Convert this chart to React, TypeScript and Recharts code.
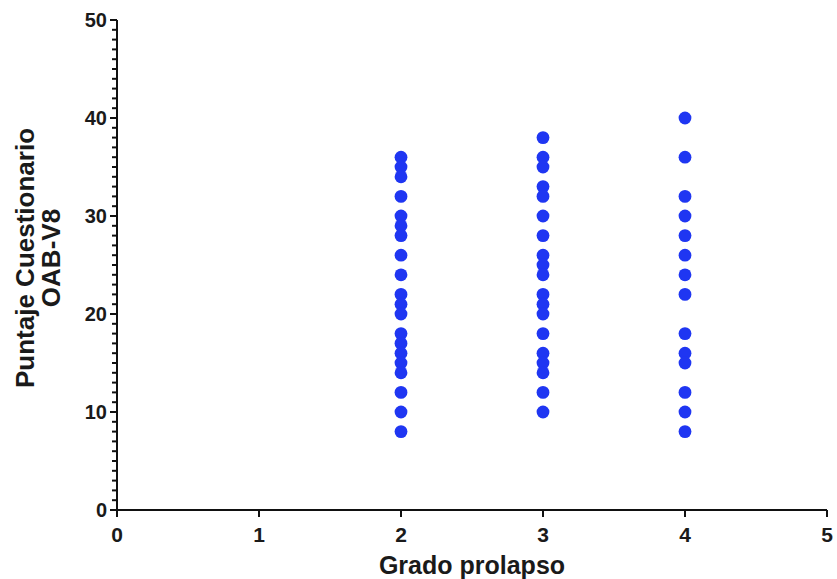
import React from "react";
import { ScatterChart, Scatter, XAxis, YAxis } from "recharts";

const grades = [2, 3, 4];
const scoresGrade2 = [36, 35, 34, 32, 30, 29, 28, 26, 24, 22, 21, 20, 18, 17, 16, 15, 14, 12, 10, 8];
const scoresGrade3 = [38, 36, 35, 33, 32, 30, 28, 26, 25, 24, 22, 21, 20, 18, 16, 15, 14, 12, 10];
const scoresGrade4 = [40, 36, 32, 30, 28, 26, 24, 22, 18, 16, 15, 12, 10, 8];
const xTicks = [0, 1, 2, 3, 4, 5];
const yTicks = Array.from({ length: 51 }, (_, i) => i);
const xLabel = "Grado prolapso";
const yLabelLines = ["Puntaje Cuestionario", "OAB-V8"];

const groups = [scoresGrade2, scoresGrade3, scoresGrade4];
const points = groups.flatMap((vals, gi) => vals.map((v) => ({ x: grades[gi], y: v })));

const FONT = "'Liberation Sans', Arial, Helvetica, sans-serif";
const BLUE = "#1f36f2";

const YTick = (props: any) => {
  const { x, y, payload } = props;
  const major = payload.value % 10 === 0;
  const len = major ? 7 : 5;
  return (
    <g>
      <line x1={x - len} y1={y} x2={x} y2={y} stroke="#111" strokeWidth={2} />
      {major && (
        <text x={x - 10} y={y} dy="0.36em" textAnchor="end" fontFamily={FONT} fontWeight="bold" fontSize={20} fill="#1a1a1a">
          {payload.value}
        </text>
      )}
    </g>
  );
};

const XTick = (props: any) => {
  const { x, y, payload } = props;
  return (
    <g>
      <line x1={x} y1={y} x2={x} y2={y + 7} stroke="#111" strokeWidth={2} />
      <text x={x} y={y + 32} textAnchor="middle" fontFamily={FONT} fontWeight="bold" fontSize={21} fill="#1a1a1a">
        {payload.value}
      </text>
    </g>
  );
};

const YLabel = (props: any) => {
  const vb = props.viewBox || {};
  const cy = vb.y + vb.height / 2 - 7;
  const x1 = 25;
  const x2 = 51;
  return (
    <g>
      <text x={x1} y={cy} transform={`rotate(-90, ${x1}, ${cy})`} textAnchor="middle" dominantBaseline="central" fontFamily={FONT} fontWeight="bold" fontSize={26} fill="#1a1a1a">
        {yLabelLines[0]}
      </text>
      <text x={x2} y={cy} transform={`rotate(-90, ${x2}, ${cy})`} textAnchor="middle" dominantBaseline="central" fontFamily={FONT} fontWeight="bold" fontSize={26} fill="#1a1a1a">
        {yLabelLines[1]}
      </text>
    </g>
  );
};

const XLabel = (props: any) => {
  const vb = props.viewBox || {};
  const cx = vb.x + vb.width / 2;
  return (
    <text x={cx} y={574} textAnchor="middle" fontFamily={FONT} fontWeight="bold" fontSize={25} fill="#1a1a1a">
      {xLabel}
    </text>
  );
};

const Dot = (props: any) => {
  const { cx, cy } = props;
  return <circle cx={cx} cy={cy} r={6.4} fill={BLUE} />;
};

export default function App() {
  return (
    <div style={{ position: "absolute", left: 0, top: 0, background: "#fff" }}>
      <ScatterChart width={837} height={579} margin={{ top: 20, right: 10, bottom: 0, left: 57 }}>
        <XAxis
          type="number"
          dataKey="x"
          domain={[0, 5]}
          ticks={xTicks}
          interval={0}
          tick={<XTick />}
          tickLine={false}
          tickSize={0}
          tickMargin={0}
          axisLine={{ stroke: "#111", strokeWidth: 2 }}
          height={69}
          allowDataOverflow
          label={<XLabel />}
        />
        <YAxis
          type="number"
          dataKey="y"
          domain={[0, 50]}
          ticks={yTicks}
          interval={0}
          tick={<YTick />}
          tickLine={false}
          tickSize={0}
          tickMargin={0}
          axisLine={{ stroke: "#111", strokeWidth: 2 }}
          width={60}
          allowDataOverflow
          label={<YLabel />}
        />
        <Scatter data={points} shape={<Dot />} isAnimationActive={false} />
      </ScatterChart>
    </div>
  );
}
